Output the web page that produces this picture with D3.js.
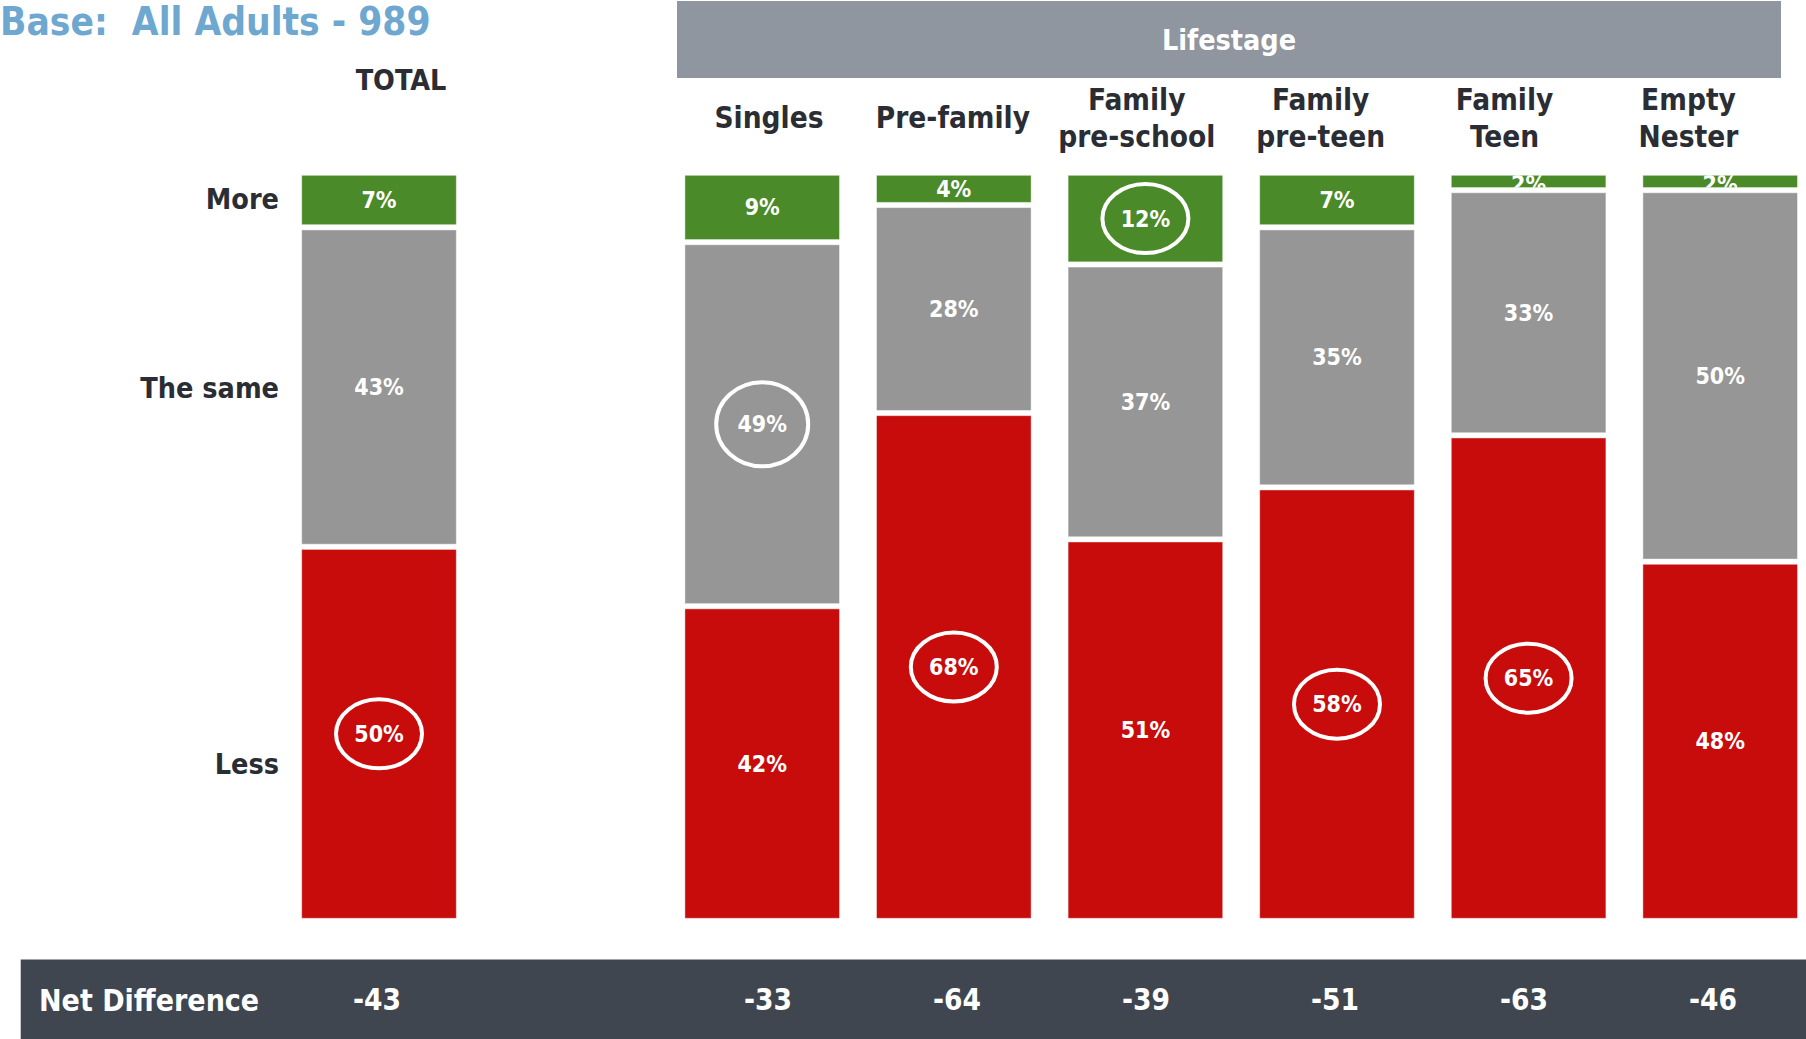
<!DOCTYPE html>
<html>
<head>
<meta charset="utf-8">
<script src="https://cdn.jsdelivr.net/npm/d3@7/dist/d3.min.js"></script>
<style>
  html, body { margin: 0; padding: 0; background: #ffffff; }
  svg { display: block; }
  text { font-family: "DejaVu Sans Condensed", "DejaVu Sans", sans-serif; }
</style>
</head>
<body>
<div id="chart"></div>
<script>
// Survey answers by lifestage: share saying More / The same / Less
const columns = ["TOTAL", "Singles", "Pre-family", "Family pre-school", "Family pre-teen", "Family Teen", "Empty Nester"];
const headerLines = [["TOTAL"], ["Singles"], ["Pre-family"], ["Family", "pre-school"], ["Family", "pre-teen"], ["Family", "Teen"], ["Empty", "Nester"]];
const moreValues = [7, 9, 4, 12, 7, 2, 2];
const sameValues = [43, 49, 28, 37, 35, 33, 50];
const lessValues = [50, 42, 68, 51, 58, 65, 48];
const responseKeys = ["more", "same", "less"];
const responseLabels = ["More", "The same", "Less"];
const highlighted = [
  ["TOTAL", "less"], ["Singles", "same"], ["Pre-family", "less"],
  ["Family pre-school", "more"], ["Family pre-teen", "less"], ["Family Teen", "less"]
];
const baseTitle = "Base:  All Adults - 989";
const groupTitle = "Lifestage";
const netTitle = "Net Difference";

const W = 1806, H = 1039;
const colors = { more: "#4a8a28", same: "#969696", less: "#c80b0b" };

const rows = columns.map((c, i) => ({ col: c, more: moreValues[i], same: sameValues[i], less: lessValues[i] }));
const lifestages = columns.slice(1);

const svg = d3.select("#chart").append("svg").attr("width", W).attr("height", H);

// Column slots: TOTAL, an empty spacer, then the six lifestages
const slots = ["TOTAL", "__spacer", ...lifestages];
const x = d3.scaleBand().domain(slots).range([301.7, 1797.5]).paddingInner(0.193).paddingOuter(0);
const y = d3.scaleLinear().domain([0, 100]).range([175.3, 918.3]);

const stack = d3.stack().keys(responseKeys);
const series = stack(rows);

const gap = 2.6;
const defs = svg.append("defs");

// Title
svg.append("text").attr("x", 0).attr("y", 35)
  .attr("font-size", 38.5).attr("font-weight", "bold").attr("fill", "#6ea7cf")
  .attr("xml:space", "preserve").text(baseTitle);

// Lifestage band
svg.append("rect").attr("x", 677).attr("y", 1).attr("width", 1781 - 677).attr("height", 77).attr("fill", "#8f969f");
svg.append("text").attr("x", (677 + 1781) / 2).attr("y", 40).attr("text-anchor", "middle")
  .attr("dominant-baseline", "central").attr("font-size", 28.5).attr("font-weight", "bold")
  .attr("fill", "#ffffff").text(groupTitle);

// Column headings
const headX = d3.scalePoint().domain(lifestages).range([769, 1688.5]);
svg.append("text").attr("x", 401).attr("y", 80).attr("text-anchor", "middle")
  .attr("dominant-baseline", "central").attr("font-size", 28.5).attr("font-weight", "bold")
  .attr("fill", "#2a2d34").text(headerLines[0][0]);
lifestages.forEach((c, i) => {
  const lines = headerLines[i + 1];
  const t = svg.append("text").attr("text-anchor", "middle").attr("font-size", 29.5)
    .attr("font-weight", "bold").attr("fill", "#2a2d34");
  const ys = lines.length === 1 ? [117.5] : [100, 137];
  lines.forEach((ln, j) => {
    t.append("tspan").attr("x", headX(c)).attr("y", ys[j]).attr("dominant-baseline", "central").text(ln);
  });
});

// Row labels
const rowLabelY = [199, 388, 764];
responseLabels.forEach((lab, i) => {
  svg.append("text").attr("x", 279).attr("y", rowLabelY[i]).attr("text-anchor", "end")
    .attr("dominant-baseline", "central").attr("font-family", "'DejaVu Sans', sans-serif")
    .attr("font-size", 28.5).attr("font-weight", "bold").attr("fill", "#2a2d34").text(lab);
});

// Stacked bars
const segs = [];
series.forEach(s => {
  s.forEach(d => {
    const top = y(d[0]) + (d[0] > 0 ? gap : 0);
    const bot = y(d[1]) - (d[1] < 100 ? gap : 0);
    segs.push({ key: s.key, col: d.data.col, value: d.data[s.key], top, bot });
  });
});

const barG = svg.append("g");
barG.selectAll("rect").data(segs).join("rect")
  .attr("x", d => x(d.col)).attr("width", x.bandwidth())
  .attr("y", d => d.top).attr("height", d => Math.max(0, d.bot - d.top))
  .attr("fill", d => colors[d.key])
  .attr("stroke", "#ffffff").attr("stroke-opacity", 0.45).attr("stroke-width", 1);

// Value labels, clipped to their own segment
segs.forEach((d, i) => {
  const id = "clip" + i;
  defs.append("clipPath").attr("id", id).append("rect")
    .attr("x", x(d.col)).attr("y", d.top).attr("width", x.bandwidth()).attr("height", Math.max(0, d.bot - d.top));
  const h = d.bot - d.top;
  const cy = h < 20 ? d.bot - 4 : (d.top + d.bot) / 2;
  svg.append("text").attr("clip-path", `url(#${id})`)
    .attr("x", x(d.col) + x.bandwidth() / 2).attr("y", cy)
    .attr("text-anchor", "middle").attr("dominant-baseline", "central")
    .attr("font-size", 23).attr("font-weight", "bold").attr("fill", "#ffffff")
    .text(d.value + "%");
});

// Highlight rings
const ringSize = { "Singles": [46, 42] };
highlighted.forEach(([col, key]) => {
  const d = segs.find(s => s.col === col && s.key === key);
  const [rx, ry] = ringSize[col] || [43, 34.5];
  svg.append("ellipse")
    .attr("cx", x(col) + x.bandwidth() / 2).attr("cy", (d.top + d.bot) / 2)
    .attr("rx", rx).attr("ry", ry)
    .attr("fill", "none").attr("stroke", "#ffffff").attr("stroke-width", 4);
});

// Net difference strip
svg.append("rect").attr("x", 20.7).attr("y", 959.5).attr("width", W - 20.7).attr("height", H - 959.5).attr("fill", "#3f4650");
svg.append("text").attr("x", 39).attr("y", 1000).attr("dominant-baseline", "central")
  .attr("font-size", 30).attr("font-weight", "bold").attr("fill", "#ffffff").text(netTitle);
const netX = d3.scalePoint().domain(lifestages).range([768, 1713]);
rows.forEach(r => {
  const net = r.more - r.less;
  const cx = r.col === "TOTAL" ? 377 : netX(r.col);
  svg.append("text").attr("x", cx).attr("y", 1000).attr("text-anchor", "middle")
    .attr("dominant-baseline", "central").attr("font-size", 29.5).attr("font-weight", "bold")
    .attr("fill", "#ffffff").text(net);
});
</script>
</body>
</html>
